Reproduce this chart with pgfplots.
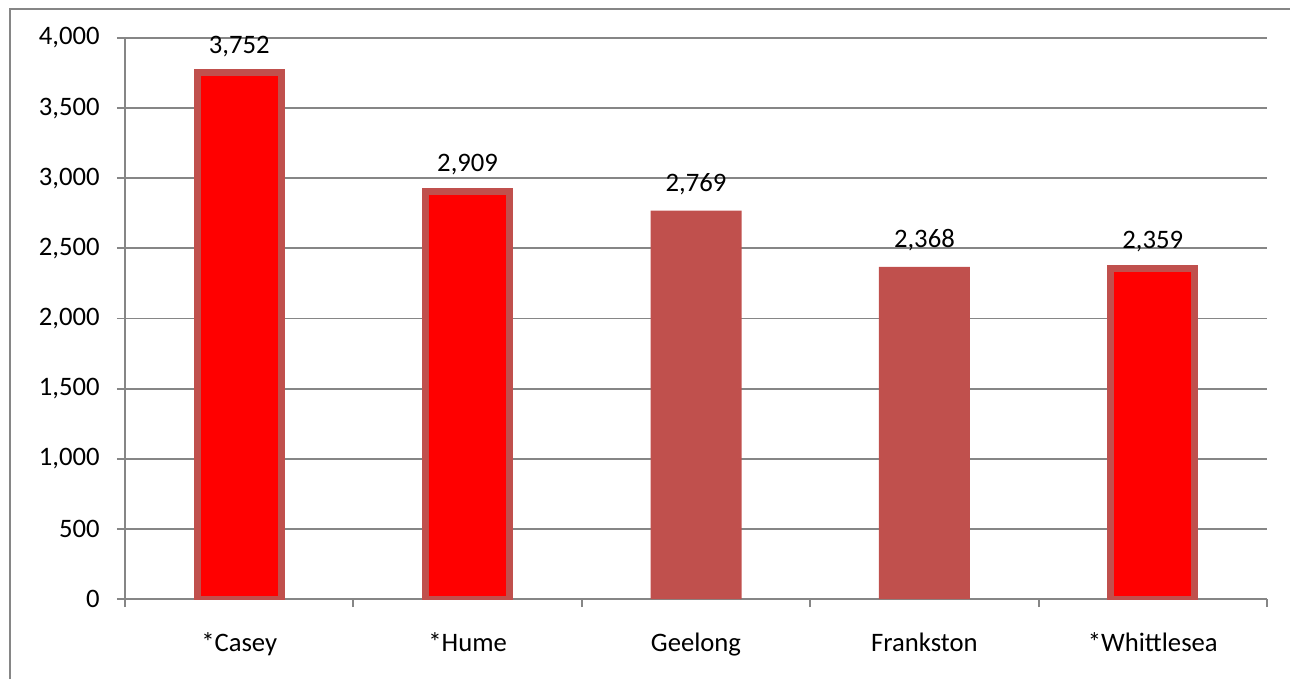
\documentclass[border=0pt]{standalone}
\usepackage{pgfplots}
\pgfplotsset{compat=1.18}
\usepackage{fontspec}
\setmainfont{Carlito}
\definecolor{barbrick}{HTML}{C0504D}
\definecolor{gridgray}{HTML}{868686}

\begin{document}
\begin{tikzpicture}
  % page extent and outer frame (1px = 0.75pt)
  \path[use as bounding box] (0pt,0pt) rectangle (967.5pt,509.25pt);
  \draw[gridgray, line width=1.4pt] (7.5pt,0pt) -- (7.5pt,502.5pt) -- (967.5pt,502.5pt);
  \begin{axis}[
    at={(93.75pt,60pt)}, anchor=south west,
    scale only axis,
    width=856.5pt, height=420.75pt,
    xmin=-0.5, xmax=4.5,
    ymin=0, ymax=4000,
    ytick={0,500,...,4000},
    xtick={-0.5,0.5,...,4.5},
    xticklabels={},
    extra x ticks={0,1,2,3,4},
    extra x tick labels={*Casey,*Hume,Geelong,Frankston,*Whittlesea},
    extra x tick style={major tick length=0pt, grid=none,
      xticklabel style={yshift=-22pt}},
    axis lines*=left,
    axis line style={gridgray, line width=1.4pt},
    tick style={gridgray, line width=1.4pt},
    major tick length=6pt,
    tick align=outside,
    ymajorgrids,
    major grid style={gridgray, line width=1.4pt},
    ticklabel style={font=\fontsize{20}{24}\selectfont, text=black},
    yticklabel style={xshift=-9.5pt},
    /pgf/number format/1000 sep={,},
    /pgf/number format/assume math mode=true,
    ybar, bar shift=0pt,
    nodes near coords,
    every node near coord/.append style={font=\fontsize{20}{24}\selectfont,
      text=black, anchor=base, inner sep=0pt, yshift=14.5pt},
  ]
    % plain bars
    \addplot[fill=barbrick, draw=none, bar width=68.25pt]
      coordinates {(2,2769) (3,2368)};
    % highlighted bars
    \addplot[fill=red, draw=barbrick, line width=5.25pt, bar width=63pt]
      coordinates {(0,3752) (1,2909) (4,2359)};
  \end{axis}
\end{tikzpicture}
\end{document}
